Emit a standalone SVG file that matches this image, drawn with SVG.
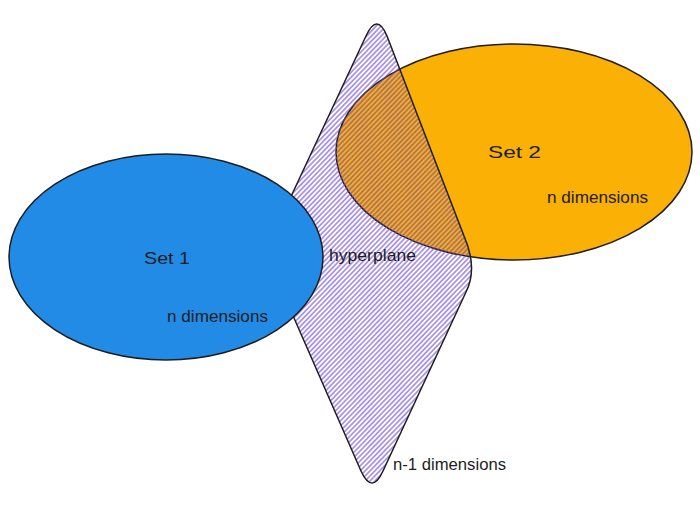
<svg xmlns="http://www.w3.org/2000/svg" width="700" height="508" viewBox="0 0 700 508">
  <style>
    .outline { stroke: #1e1e1e; stroke-width: 1.5; stroke-linejoin: round; }
    .label { font-family: "Liberation Sans", "Noto Sans", sans-serif; font-size: 17px; fill: #1e1e1e; }
  </style>
  <defs>
    <pattern id="hatch" patternUnits="userSpaceOnUse" width="10" height="3.5" patternTransform="rotate(-46)">
      <line x1="0" y1="1.75" x2="10" y2="1.75" stroke="#6741d9" stroke-width="1.1" stroke-opacity="0.9"/>
    </pattern>
  </defs>
  <rect width="700" height="508" fill="#ffffff"/>

  <g id="node-set2">
    <ellipse cx="514" cy="152" rx="178" ry="108" fill="#fab005" class="outline"/>
    <text class="label" x="488" y="158" textLength="53" lengthAdjust="spacingAndGlyphs">Set 2</text>
    <text class="label" x="547" y="203" textLength="101" lengthAdjust="spacingAndGlyphs">n dimensions</text>
  </g>

  <g id="node-hyperplane">
    <path d="M366,36 Q377,12 387,36 L464,236 Q478,268 466,292 L383,471 Q372,495 361,471 L273,270 Q265,252 273,235 Z" fill="url(#hatch)" class="outline" stroke-width="1.3"/>
    <text class="label" x="329" y="261" textLength="87" lengthAdjust="spacingAndGlyphs">hyperplane</text>
    <text class="label" x="393" y="470" textLength="113" lengthAdjust="spacingAndGlyphs">n-1 dimensions</text>
  </g>

  <g id="node-set1">
    <ellipse cx="166" cy="257" rx="157" ry="103" fill="#228be6" class="outline"/>
    <text class="label" x="144" y="264" textLength="46" lengthAdjust="spacingAndGlyphs">Set 1</text>
    <text class="label" x="167" y="322" textLength="101" lengthAdjust="spacingAndGlyphs">n dimensions</text>
  </g>

  <g id="connectors"/>
</svg>
